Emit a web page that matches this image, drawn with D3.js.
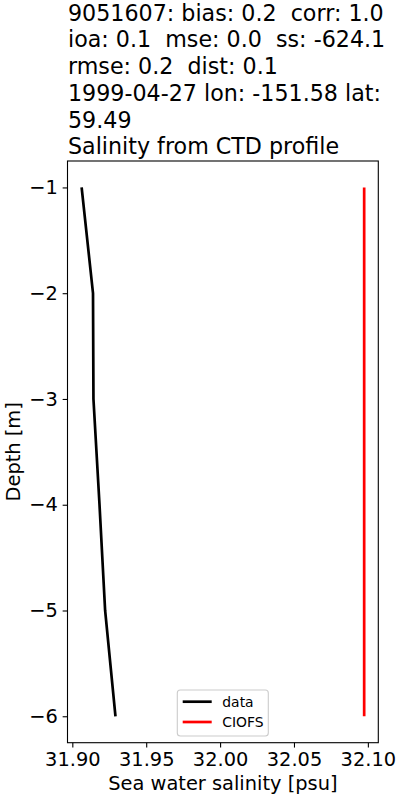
<!DOCTYPE html>
<html>
<head>
<meta charset="utf-8">
<script src="https://cdn.jsdelivr.net/npm/d3@7"></script>
<style>
  body { margin: 0; background: #fff; }
  text { font-family: "DejaVu Sans", sans-serif; fill: #000; white-space: pre; }
</style>
</head>
<body>
<svg id="chart" width="400" height="800"></svg>
<script>
// profile values
var depths = [-1, -2, -3, -4, -5, -6];
var dataSal = [31.9063, 31.9140, 31.9143, 31.9184, 31.9222, 31.9292];
var modelSal = [32.0975, 32.0975, 32.0975, 32.0975, 32.0975, 32.0975];
var xTicks = [31.90, 31.95, 32.00, 32.05, 32.10];
var yTicks = [-1, -2, -3, -4, -5, -6];
var titleLines = [
    "9051607: bias: 0.2  corr: 1.0",
    "ioa: 0.1  mse: 0.0  ss: -624.1",
    "rmse: 0.2  dist: 0.1",
    "1999-04-27 lon: -151.58 lat:",
    "59.49",
    "Salinity from CTD profile"
];
var legendNames = ["data", "CIOFS"];
var legendColors = ["#000000", "#ff0000"];

var svg = d3.select("#chart");
var plotL = 67.5, plotR = 378.3, plotT = 161, plotB = 742.7;

// 5% margins like matplotlib
var xmin = d3.min(dataSal.concat(modelSal)), xmax = d3.max(dataSal.concat(modelSal));
var xpad = (xmax - xmin) * 0.05;
var x = d3.scaleLinear().domain([xmin - xpad, xmax + xpad]).range([plotL, plotR]);
var y = d3.scaleLinear().domain([-6.25, -0.75]).range([plotB, plotT]);

var tickLen = 4.86;

// x axis
var xAxis = d3.axisBottom(x).tickValues(xTicks).tickFormat(d3.format(".2f"))
    .tickSizeInner(tickLen).tickSizeOuter(0).tickPadding(4.5);
var gx = svg.append("g").attr("transform", "translate(0," + plotB + ")").call(xAxis);
gx.select(".domain").remove();
gx.selectAll("line").attr("stroke", "#000").attr("stroke-width", 1.1);
gx.selectAll("text").style("font-size", "19.4px").attr("font-family", "DejaVu Sans");

// y axis
var yAxis = d3.axisLeft(y).tickValues(yTicks).tickFormat(function(d){ return "\u2212" + Math.abs(d); })
    .tickSizeInner(tickLen).tickSizeOuter(0).tickPadding(4.8);
var gy = svg.append("g").attr("transform", "translate(" + plotL + ",0)").call(yAxis);
gy.select(".domain").remove();
gy.selectAll("line").attr("stroke", "#000").attr("stroke-width", 1.1);
gy.selectAll("text").style("font-size", "19.4px").attr("font-family", "DejaVu Sans");

// frame
svg.append("rect")
    .attr("x", plotL).attr("y", plotT)
    .attr("width", plotR - plotL).attr("height", plotB - plotT)
    .attr("fill", "none").attr("stroke", "#000").attr("stroke-width", 1.1);

var line = d3.line()
    .x(function(d){ return x(d[0]); })
    .y(function(d){ return y(d[1]); });

svg.append("path")
    .datum(d3.zip(dataSal, depths))
    .attr("d", line)
    .attr("fill", "none").attr("stroke", legendColors[0]).attr("stroke-width", 2.7);

svg.append("path")
    .datum(d3.zip(modelSal, depths))
    .attr("d", line)
    .attr("fill", "none").attr("stroke", legendColors[1]).attr("stroke-width", 2.7);

// title
svg.selectAll("text.title")
    .data(titleLines)
    .enter()
    .append("text")
    .attr("class", "title")
    .attr("x", 68)
    .attr("y", function(d, i){ return 20.7 + i * 26.7; })
    .style("font-size", "22.2px")
    .text(function(d){ return d; });

// axis labels
svg.append("text")
    .attr("x", (plotL + plotR) / 2)
    .attr("y", 790)
    .attr("text-anchor", "middle")
    .style("font-size", "19.4px")
    .text("Sea water salinity [psu]");

svg.append("text")
    .attr("transform", "rotate(-90)")
    .attr("x", -(plotT + plotB) / 2)
    .attr("y", 19.5)
    .attr("text-anchor", "middle")
    .style("font-size", "19.4px")
    .text("Depth [m]");

// legend
var leg = svg.append("g");
leg.append("rect")
    .attr("x", 177.3).attr("y", 690)
    .attr("width", 91).attr("height", 46)
    .attr("rx", 3)
    .attr("fill", "#fff").attr("fill-opacity", 0.8)
    .attr("stroke", "#cccccc").attr("stroke-width", 1.1);

var items = leg.selectAll("g.item")
    .data(legendNames)
    .enter()
    .append("g")
    .attr("class", "item")
    .attr("transform", function(d, i){ return "translate(0," + (701.7 + i * 20.3) + ")"; });

items.append("line")
    .attr("x1", 182.7).attr("x2", 211.7)
    .attr("stroke", function(d, i){ return legendColors[i]; })
    .attr("stroke-width", 2.7);

items.append("text")
    .attr("x", 222.3)
    .attr("dy", "0.36em")
    .style("font-size", "13.9px")
    .text(function(d){ return d; });
</script>
</body>
</html>
